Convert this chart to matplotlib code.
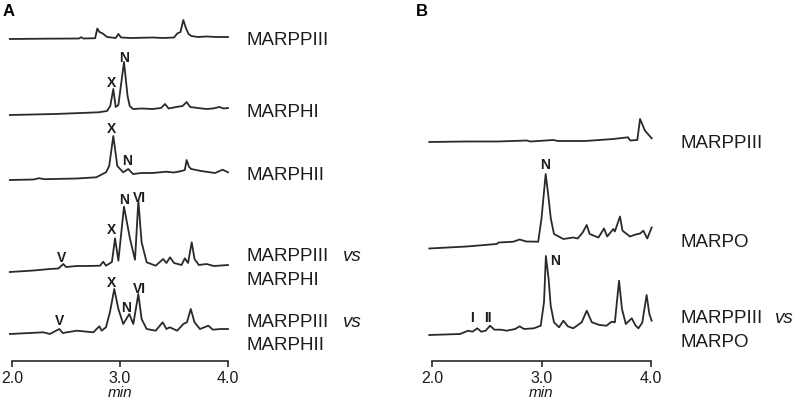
import matplotlib
matplotlib.use('Agg')
import matplotlib.pyplot as plt

plt.rcParams['font.family'] = ['Liberation Sans', 'DejaVu Sans']

# retention time (min) and signal height above each trace's baseline (arbitrary units)
# panel A
t_a_marppiii = [1.98, 2.30, 2.62, 2.64, 2.66, 2.77, 2.79, 2.81, 2.84, 2.88,
                2.96, 2.985, 3.01, 3.10, 3.30, 3.40, 3.50, 3.53, 3.56, 3.586,
                3.61, 3.635, 3.66, 3.72, 3.80, 3.90, 4.00]
h_a_marppiii = [0, 0.3, 0.5, 1.8, 0.5, 0.8, 10.5, 7, 5.5, 2,
                1.0, 5, 1.5, 1, 1.5, 1, 1.5, 5.5, 7, 19,
                11, 5, 3, 2, 2.5, 2, 2]

t_marphi = [1.98, 2.40, 2.80, 2.88, 2.91, 2.938, 2.96, 2.985, 3.037, 3.07,
            3.09, 3.12, 3.20, 3.30, 3.38, 3.417, 3.45, 3.52, 3.58, 3.617,
            3.65, 3.72, 3.80, 3.86, 3.92, 3.96, 4.00]
h_marphi = [0, 1, 2.7, 4, 9, 26, 8, 10, 53, 19,
            9, 6, 6.5, 6, 7, 11, 6.5, 8, 9, 13,
            8, 7, 6, 6.5, 8, 6.5, 7]

t_marphii = [1.98, 2.20, 2.25, 2.30, 2.60, 2.78, 2.87, 2.90, 2.938, 2.975,
             3.03, 3.077, 3.12, 3.20, 3.30, 3.43, 3.50, 3.57, 3.60, 3.617,
             3.64, 3.66, 3.75, 3.88, 3.95, 4.00]
h_marphii = [0, 0.5, 1.8, 0.8, 1.5, 2.7, 7.7, 14, 44, 14,
             7.7, 11, 6, 7, 7, 8.3, 7.5, 9, 10, 20,
             13, 11, 9, 7, 10.3, 7.7]

t_vs_marphi = [1.98, 2.20, 2.35, 2.43, 2.475, 2.50, 2.60, 2.70, 2.815, 2.845,
               2.87, 2.925, 2.954, 2.985, 3.037, 3.093, 3.139, 3.17, 3.20, 3.247,
               3.33, 3.40, 3.43, 3.463, 3.50, 3.57, 3.60, 3.63, 3.664, 3.69,
               3.73, 3.80, 3.87, 4.00]
h_vs_marphi = [0, 1.5, 3, 3.5, 8, 5, 6, 6, 6.3, 10.3,
               6.3, 10, 33.7, 11.3, 65.3, 33, 12.3, 71.3, 29.7, 9.7,
               6.3, 13, 9, 14.7, 9, 7, 13.7, 9, 29.7, 13,
               7, 8, 6, 7]

t_vs_marphii = [1.98, 2.29, 2.35, 2.438, 2.47, 2.60, 2.753, 2.809, 2.83, 2.87,
                2.907, 2.947, 2.985, 3.03, 3.086, 3.123, 3.17, 3.20, 3.247, 3.33,
                3.395, 3.43, 3.46, 3.53, 3.586, 3.62, 3.655, 3.69, 3.74, 3.818,
                3.86, 3.93, 4.00]
h_vs_marphii = [0, 1.7, 0, 5, 1, 3.3, 1.7, 7.7, 3.3, 6.7,
                22, 45, 25, 10, 20, 10, 40, 15, 5, 3.3,
                11.7, 5, 6.7, 3.3, 10, 11.7, 25, 11.7, 5, 8.3,
                4.3, 5, 5]

# panel B
t_b_marppiii = [1.975, 2.30, 2.60, 2.865, 2.90, 3.108, 3.15, 3.40, 3.656, 3.79,
                3.81, 3.875, 3.90, 3.945, 4.006]
h_b_marppiii = [0, 0.5, 0.5, 1.5, 0.5, 2, 1, 1, 3, 4.7,
                1.5, 2, 23, 11.3, 3.7]

t_marpo = [1.975, 2.317, 2.59, 2.61, 2.743, 2.80, 2.86, 2.97, 3.00, 3.038,
           3.06, 3.085, 3.114, 3.20, 3.29, 3.33, 3.376, 3.413, 3.44, 3.52,
           3.571, 3.60, 3.656, 3.67, 3.717, 3.74, 3.808, 3.86, 3.90, 3.93,
           3.966, 4.006]
h_marpo = [0, 2, 4.5, 6, 6.8, 9, 7, 6.8, 30, 74.5,
           55, 30, 14.5, 9.5, 11, 10, 16, 23.5, 14.5, 11,
           20, 12, 19.5, 17, 32, 17.8, 12, 14, 15, 17.8,
           10, 21]

t_vs_marpo = [1.975, 2.256, 2.33, 2.37, 2.414, 2.45, 2.49, 2.53, 2.57, 2.63,
              2.682, 2.76, 2.80, 2.84, 2.93, 2.993, 3.023, 3.04, 3.065, 3.084,
              3.114, 3.16, 3.20, 3.24, 3.29, 3.367, 3.413, 3.46, 3.53, 3.594,
              3.64, 3.67, 3.708, 3.735, 3.77, 3.824, 3.86, 3.885, 3.92, 3.96,
              3.985, 4.006]
h_vs_marpo = [0, 1, 4.3, 3.3, 6.7, 3.3, 4.3, 9.3, 5.3, 5.3,
              4.3, 6, 8.7, 6, 6.7, 9.3, 33, 79, 56, 29.3,
              12.7, 7.7, 14.3, 8.7, 6.7, 12.7, 24.3, 12.7, 10, 9.3,
              13.3, 12.7, 54.3, 26, 11, 16.7, 9.3, 6.7, 12.3, 40,
              21, 14.3]

ticks = [2.0, 3.0, 4.0]
tick_labels = ['2.0', '3.0', '4.0']

# stacking: (times, heights, baseline offset)
traces_a = [(t_a_marppiii, h_a_marppiii, 322),
            (t_marphi, h_marphi, 246),
            (t_marphii, h_marphii, 181),
            (t_vs_marphi, h_vs_marphi, 89),
            (t_vs_marphii, h_vs_marphii, 27)]
traces_b = [(t_b_marppiii, h_b_marppiii, 219),
            (t_marpo, h_marpo, 112.5),
            (t_vs_marpo, h_vs_marpo, 26)]

# trace names on the right: (text, baseline y, has "vs")
names_a = [('MARPPIII', 317, False), ('MARPHI', 245.3, False), ('MARPHII', 182, False),
           ('MARPPIII', 101.3, True), ('MARPHI', 77, False),
           ('MARPPIII', 35.3, True), ('MARPHII', 12, False)]
names_b = [('MARPPIII', 214, False), ('MARPO', 115.3, False),
           ('MARPPIII', 39, True), ('MARPO', 15.3, False)]

# peak labels: (text, time, baseline y)
peaks_a = [('X', 2.92, 275.3), ('N', 3.04, 300.3),
           ('X', 2.92, 229), ('N', 3.062, 197),
           ('V', 2.457, 100.3), ('X', 2.92, 128), ('N', 3.039, 158), ('VI', 3.178, 160.3),
           ('V', 2.444, 37), ('X', 2.921, 75.3), ('N', 3.057, 50.3), ('VI', 3.178, 68.7)]
peaks_b = [('N', 3.032, 192.7), ('N', 3.12, 97),
           ('I', 2.365, 40.3), ('II', 2.507, 40.3)]

line_color = '#2a2a2a'
text_color = '#1c1c1c'


def setup_axis(ax):
    ax.set_xlim(2.0, 4.0)
    ax.set_ylim(0, 362)
    for side in ['top', 'left', 'right']:
        ax.spines[side].set_visible(False)
    ax.spines['bottom'].set_color(line_color)
    ax.spines['bottom'].set_linewidth(1.2)
    ax.set_xticks(ticks)
    ax.set_xticklabels(tick_labels)
    ax.tick_params(axis='x', direction='out', length=4.5, width=1.2, pad=2,
                   labelsize=11.5, colors=line_color, labelcolor=text_color)
    ax.set_yticks([])
    ax.set_xlabel('min', fontsize=11, style='italic', labelpad=0, color=text_color)
    ax.patch.set_alpha(0)


def draw_panel(ax, traces, names, peaks, name_x, vs_x):
    for t, h, base in traces:
        ax.plot(t, [base + v for v in h], color=line_color, lw=1.3, clip_on=False,
                solid_joinstyle='round')
    for text, y, vs in names:
        ax.text(name_x, y, text, fontsize=13.5, color=text_color, va='baseline', ha='left')
        if vs:
            ax.text(vs_x, y, 'vs', fontsize=13.5, style='italic', color=text_color,
                    va='baseline', ha='left')
    for text, t, y in peaks:
        ax.text(t, y, text, fontsize=10, fontweight='bold', color=text_color,
                ha='center', va='baseline')


fig = plt.figure(figsize=(8, 4.06), dpi=100)
ax_a = fig.add_axes([12 / 800, 44 / 406, 216 / 800, 362 / 406])
ax_b = fig.add_axes([432 / 800, 44 / 406, 219 / 800, 362 / 406])

setup_axis(ax_a)
setup_axis(ax_b)

draw_panel(ax_a, traces_a, names_a, peaks_a, 4.167, 5.065)
draw_panel(ax_b, traces_b, names_b, peaks_b, 4.265, 5.132)

fig.text(9 / 800, 1 - 12 / 406, 'A', fontsize=12, fontweight='bold', ha='center', va='center')
fig.text(422 / 800, 1 - 12 / 406, 'B', fontsize=12, fontweight='bold', ha='center', va='center')

fig.savefig('out.png', dpi=100)
